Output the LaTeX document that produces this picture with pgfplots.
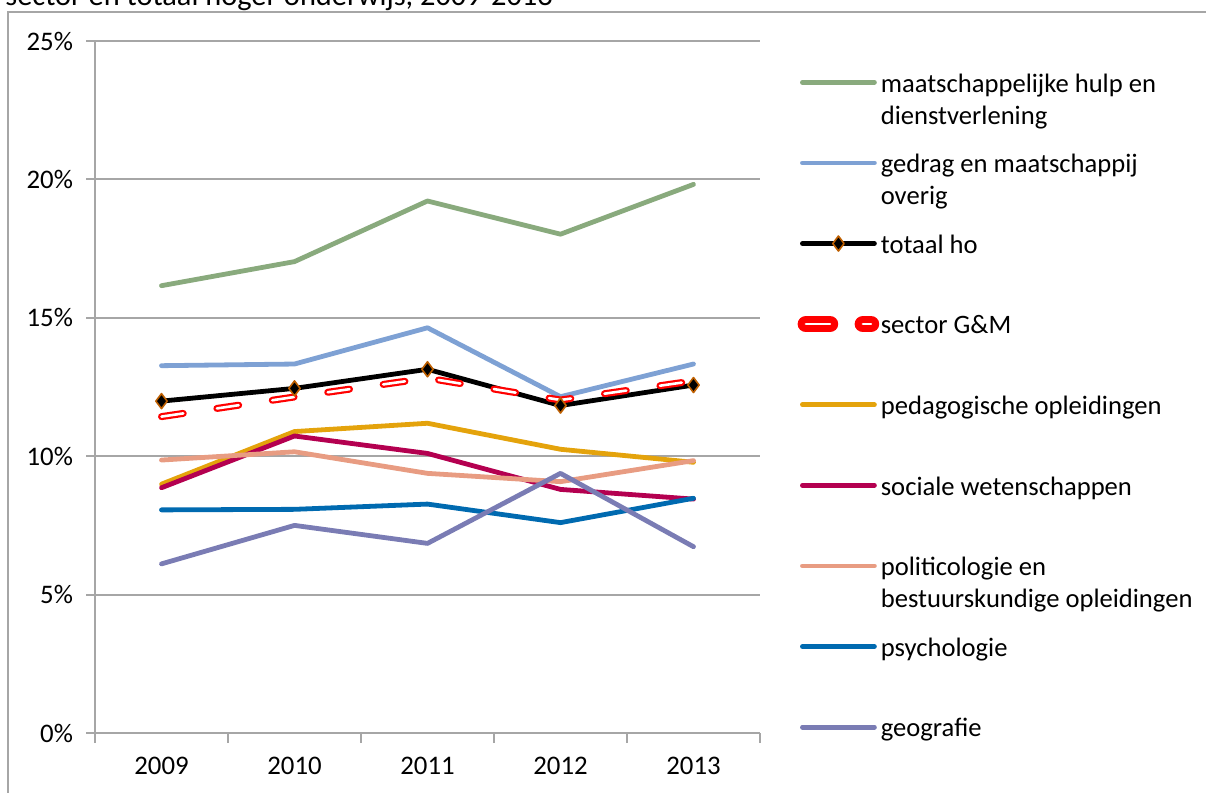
\documentclass[border=0pt]{standalone}
\usepackage{pgfplots}
\pgfplotsset{compat=1.18}
\usepackage{fontspec}
\setmainfont{Carlito}
\definecolor{gridgray}{RGB}{166,166,166}
\definecolor{cgreen}{RGB}{137,170,125}
\definecolor{clblue}{RGB}{126,161,212}
\definecolor{cgold}{RGB}{228,163,12}
\definecolor{cmag}{RGB}{180,0,80}
\definecolor{csalmon}{RGB}{232,156,130}
\definecolor{cpsy}{RGB}{0,106,176}
\definecolor{cgeo}{RGB}{122,124,180}
\definecolor{cmarkedge}{RGB}{190,95,0}
\newcommand{\two}[2]{\begin{tabular}[t]{@{}l@{}}#1\\#2\end{tabular}}
\begin{document}
\begin{tikzpicture}[font=\fontsize{13.3}{16}\selectfont]
\useasboundingbox (0,0) rectangle (603pt,396.5pt);
\draw[gridgray, line width=1pt] (3.75pt,-2pt) -- (3.75pt,390.5pt) -- (610pt,390.5pt);
\node[anchor=base west, inner sep=0pt, font=\fontsize{15.2}{18}\selectfont] at (2.5pt,393.6pt) {sector en totaal hoger onderwijs, 2009-2013};
\begin{axis}[
  at={(47.5pt,30pt)}, anchor=south west,
  scale only axis, width=332.5pt, height=346pt,
  xmin=0.5, xmax=5.5, ymin=0, ymax=25,
  axis x line*=bottom, axis y line*=left,
  axis line style={draw=gridgray, line width=1pt, -},
  xtick={1,2,3,4,5}, xticklabels={2009,2010,2011,2012,2013},
  major x tick style={draw=none},
  minor xtick={0.5,1.5,2.5,3.5,4.5,5.5},
  minor x tick style={draw=gridgray, line width=1pt},
  minor tick length=5pt,
  major tick length=4.5pt,
  tick align=outside,
  ytick={0,5,10,15,20,25}, yticklabels={0\%,5\%,10\%,15\%,20\%,25\%},
  major y tick style={draw=gridgray, line width=1pt},
  ymajorgrids, grid style={gridgray, line width=1pt},
  tick label style={font=\fontsize{13.4}{16}\selectfont},
  yticklabel style={xshift=-3pt},
  xticklabel style={yshift=-4pt},
  clip=false,
  legend cell align=left,
  legend style={draw=none, fill=none, at={(1.056,0.965)}, anchor=north west,
    font=\fontsize{13.3}{16}\selectfont, row sep=23.6pt, inner sep=0pt,
    nodes={inner xsep=0.8pt}},
  legend image code/.code={\draw[#1, mark repeat=2, mark phase=2] plot coordinates {(0pt,0pt) (18pt,0pt) (36pt,0pt)};},
  every axis plot/.append style={line width=2.4pt, line cap=round, line join=round},
]
\addplot[cgreen] coordinates {(1,16.16) (2,17.03) (3,19.22) (4,18.02) (5,19.82)};
\addlegendentry{\two{maatschappelijke hulp en}{dienstverlening}}
\addplot[clblue] coordinates {(1,13.27) (2,13.33) (3,14.64) (4,12.15) (5,13.33)};
\addlegendentry{\two{gedrag en maatschappij}{overig}}
\addplot[black, mark=diamond*, mark size=3.75pt, mark options={fill=black, draw=cmarkedge, line width=0.8pt}] coordinates {(1,11.99) (2,12.45) (3,13.14) (4,11.83) (5,12.57)};
\addlegendentry{\two{totaal ho}{\mbox{}}}
\addplot[draw=red, line width=1.1pt, double=white, double distance=1.3pt, dash pattern=on 11pt off 17pt,
  legend image code/.code={\draw[red, line width=3.5pt, line cap=round, dash pattern=on 12pt off 16.5pt] (1.75pt,0pt) -- (34.25pt,0pt);}]
  coordinates {(1,11.43) (2,12.14) (3,12.82) (4,12.03) (5,12.72)};
\addlegendentry{\two{sector G\&M}{\mbox{}}}
\addplot[cgold] coordinates {(1,8.99) (2,10.89) (3,11.19) (4,10.25) (5,9.78)};
\addlegendentry{\two{pedagogische opleidingen}{\mbox{}}}
\addplot[cmag] coordinates {(1,8.86) (2,10.73) (3,10.10) (4,8.80) (5,8.45)};
\addlegendentry{\two{sociale wetenschappen}{\mbox{}}}
\addplot[csalmon] coordinates {(1,9.86) (2,10.16) (3,9.38) (4,9.08) (5,9.84)};
\addlegendentry{\two{politicologie en}{bestuurskundige opleidingen}}
\addplot[cpsy] coordinates {(1,8.06) (2,8.08) (3,8.27) (4,7.60) (5,8.48)};
\addlegendentry{\two{psychologie}{\mbox{}}}
\addplot[cgeo] coordinates {(1,6.11) (2,7.50) (3,6.85) (4,9.38) (5,6.73)};
\addlegendentry{\two{geografie}{\mbox{}}}
\end{axis}
\end{tikzpicture}
\end{document}
